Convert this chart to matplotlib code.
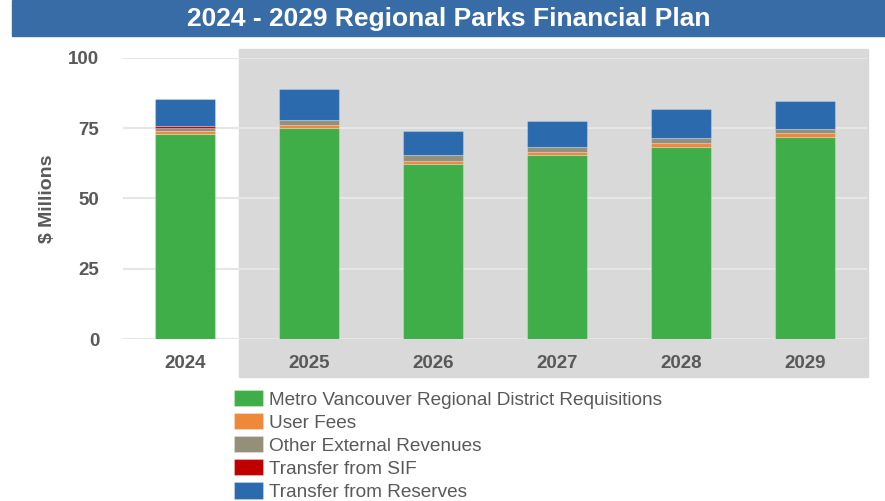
import matplotlib
matplotlib.use("Agg")
import matplotlib.pyplot as plt
from matplotlib.patches import Rectangle

years = ["2024", "2025", "2026", "2027", "2028", "2029"]
requisitions = [73.0, 74.9, 62.3, 65.4, 68.4, 71.9]
user_fees = [0.8, 1.0, 1.1, 1.1, 1.1, 1.2]
other_ext = [1.2, 2.1, 2.0, 1.9, 2.0, 1.4]
sif = [0.7, 0.0, 0.0, 0.0, 0.0, 0.0]
reserves = [9.6, 10.8, 8.6, 9.1, 10.2, 10.2]

series = [
    ("Metro Vancouver Regional District Requisitions", requisitions, "#3fae49"),
    ("User Fees", user_fees, "#f0883a"),
    ("Other External Revenues", other_ext, "#948f78"),
    ("Transfer from SIF", sif, "#c00000"),
    ("Transfer from Reserves", reserves, "#2a6aad"),
]

plt.rcParams['font.family'] = ['Liberation Sans', 'DejaVu Sans']
txt_col = "#595959"

fig = plt.figure(figsize=(8.85, 5.01), dpi=100)

# title banner
fig.patches.append(Rectangle((12 / 885, 0.928), 1 - 12 / 885, 0.072,
                             transform=fig.transFigure, color="#386ca6", zorder=-2))
fig.text(0.507, 0.963, "2024 - 2029 Regional Parks Financial Plan", color="white",
         fontsize=19, fontweight="bold", ha="center", va="center")

# grey panel behind forecast years
fig.patches.append(Rectangle((239 / 885, 1 - 377 / 501), (868 - 239) / 885, (377 - 49) / 501,
                             transform=fig.transFigure, color="#d9d9d9", zorder=-2))

ax = fig.add_axes([123 / 885, 1 - 339 / 501, (867 - 123) / 885, (339 - 57.7) / 501])
ax.set_facecolor("none")

x = range(len(years))
bottom = [0.0] * len(years)
for name, vals, col in series:
    ax.bar(x, vals, 0.485, bottom=bottom, color=col, label=name,
           edgecolor=(1, 1, 1, 0.25), linewidth=0.8, zorder=3)
    bottom = [b + v for b, v in zip(bottom, vals)]

ax.set_xlim(-0.5, 5.5)
ax.set_ylim(0, 100)
ax.set_yticks([0, 25, 50, 75, 100])
ax.set_xticks(list(x))
ax.set_xticklabels(years)
ax.grid(axis="y", color="#e6e6e6", linewidth=1.5, zorder=0)
ax.set_axisbelow(True)
for s in ax.spines.values():
    s.set_visible(False)
ax.tick_params(axis="both", length=0, labelsize=13.5, labelcolor=txt_col)
ax.tick_params(axis="y", pad=17)
ax.tick_params(axis="x", pad=11.5)
for lbl in ax.get_xticklabels() + ax.get_yticklabels():
    lbl.set_fontweight("bold")

fig.text(47 / 885, 1 - 199 / 501, r"\$ Millions", rotation=90, ha="center", va="center",
         fontsize=14, fontweight="bold", color=txt_col)

leg = fig.legend(loc="upper left", bbox_to_anchor=(234 / 885, 1 - 390 / 501),
                 frameon=False, fontsize=13.7, handlelength=1.55, handleheight=0.95,
                 handletextpad=0.3, labelspacing=0.225, borderpad=0, borderaxespad=0)
for t in leg.get_texts():
    t.set_color(txt_col)

fig.savefig("out.png", dpi=100)
